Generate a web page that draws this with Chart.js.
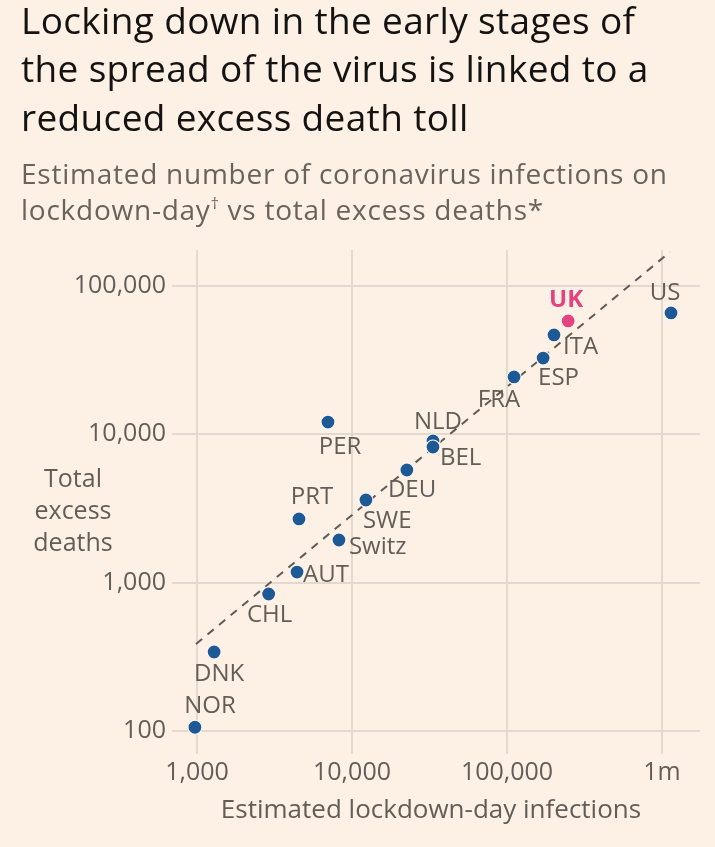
<!DOCTYPE html>
<html>
<head>
<meta charset="utf-8">
<script src="https://cdn.jsdelivr.net/npm/chart.js@4"></script>
<style>
  html, body { margin: 0; padding: 0; background: #fdf1e6; }
  #wrap { position: relative; width: 715px; height: 847px; overflow: hidden; }
  #chart { position: absolute; left: 0; top: 0; }
  .line { position: absolute; left: 21px; white-space: nowrap; font-family: "Open Sans", sans-serif; line-height: normal; }
  .t { font-size: 37px; color: #151312; }
  .s { font-size: 28px; color: #69635e; }
</style>
</head>
<body>
<div id="wrap">
  <canvas id="chart" width="715" height="847"></canvas>
  <div class="line t" id="t1" style="top:-6px">Locking down in the early stages of</div>
  <div class="line t" id="t2" style="top:42px">the spread of the virus is linked to a</div>
  <div class="line t" id="t3" style="top:91px">reduced excess death toll</div>
  <div class="line s" id="s1" style="top:154px">Estimated number of coronavirus infections on</div>
  <div class="line s" id="s2" style="top:190px">lockdown-day<sup style="font-size:16px;vertical-align:11px;line-height:0">†</sup> vs total excess deaths*</div>
</div>
<script>
// ---- data ----
const countries = ['NOR','DNK','CHL','AUT','PRT','Switz','SWE','PER','DEU','NLD','BEL','FRA','ESP','ITA','UK','US'];
const infections = [970, 1290, 2900, 4420, 4550, 8240, 12300, 7000, 22600, 33300, 33300, 111000, 171000, 201000, 248000, 1143000];
const excessDeaths = [106, 341, 839, 1180, 2690, 1940, 3610, 12100, 5750, 9020, 8220, 24400, 32700, 46800, 58200, 65900];
const highlighted = ['UK'];
const trendX = [985, 1127000];
const trendY = [386, 169800];
const xTickValues = [1000, 10000, 100000, 1000000];
const xTickLabels = ['1,000', '10,000', '100,000', '1m'];
const yTickValues = [100, 1000, 10000, 100000];
const yTickLabels = ['100', '1,000', '10,000', '100,000'];
const xTitle = 'Estimated lockdown-day infections';
const yTitle = ['Total', 'excess', 'deaths'];

// ---- text fitting (style only): adjust headline letter spacing to the reference line widths ----
function fit(id, target) {
  const el = document.getElementById(id);
  const w = el.getBoundingClientRect().width;
  const n = el.textContent.length - 1;
  return (target - w) / n;
}
const lsT = fit('t1', 614);
['t1','t2','t3'].forEach(id => document.getElementById(id).style.letterSpacing = lsT + 'px');
const lsS = fit('s1', 646);
['s1','s2'].forEach(id => document.getElementById(id).style.letterSpacing = lsS + 'px');

// ---- styles (label placement relative to point, px) ----
const labelStyle = {
  NOR:   { dx: 15,  dy: -21, align: 'center' },
  DNK:   { dx: 5,   dy: 22,  align: 'center' },
  CHL:   { dx: 1,   dy: 21,  align: 'center' },
  AUT:   { dx: 6,   dy: 3,   align: 'left' },
  PRT:   { dx: 13,  dy: -22, align: 'center' },
  Switz: { dx: 10,  dy: 7,   align: 'left' },
  SWE:   { dx: -3,  dy: 21,  align: 'left' },
  PER:   { dx: 12,  dy: 25,  align: 'center' },
  DEU:   { dx: -19, dy: 20,  align: 'left' },
  NLD:   { dx: 5,   dy: -19, align: 'center' },
  BEL:   { dx: 7,   dy: 11,  align: 'left' },
  FRA:   { dx: -15, dy: 23,  align: 'center' },
  ESP:   { dx: -5,  dy: 20,  align: 'left' },
  ITA:   { dx: 9,   dy: 12,  align: 'left' },
  UK:    { dx: -2,  dy: -21, align: 'center' },
  US:    { dx: -6,  dy: -20, align: 'center' }
};
const BLUE = '#1d5a95', PINK = '#e4437f', TEXT = '#635d58', GRID = '#e4d9cf';
const FONT = '"Open Sans", sans-serif';

const points = countries.map((c, i) => ({ x: infections[i], y: excessDeaths[i], c }));

const labelPlugin = {
  id: 'labels',
  afterDatasetsDraw(chart) {
    const ctx = chart.ctx, xs = chart.scales.x, ys = chart.scales.y;
    ctx.save();
    ctx.textBaseline = 'middle';
    countries.forEach((c, i) => {
      const st = labelStyle[c];
      const px = xs.getPixelForValue(infections[i]) + st.dx;
      const py = ys.getPixelForValue(excessDeaths[i]) + st.dy;
      const hi = highlighted.includes(c);
      ctx.font = (hi ? '700 ' : '400 ') + '24px ' + FONT;
      ctx.fillStyle = hi ? PINK : TEXT;
      ctx.textAlign = st.align;
      ctx.fillText(c, px, py);
    });
    // axis titles
    ctx.font = '400 26px ' + FONT;
    ctx.fillStyle = TEXT;
    ctx.textAlign = 'center';
    ctx.fillText(xTitle, 431, 811);
    ctx.font = '400 25px ' + FONT;
    yTitle.forEach((t, k) => ctx.fillText(t, 73, 480 + k * 32));
    ctx.restore();
  }
};

new Chart(document.getElementById('chart'), {
  data: {
    datasets: [
      {
        type: 'line',
        data: trendX.map((x, i) => ({ x, y: trendY[i] })),
        borderColor: '#5f5a55',
        borderWidth: 2,
        borderDash: [8, 7],
        pointRadius: 0,
        fill: false,
        order: 2
      },
      {
        type: 'scatter',
        data: points,
        pointRadius: 7,
        pointBorderWidth: 1.2,
        pointBorderColor: '#fdf6ef',
        pointBackgroundColor: points.map(p => highlighted.includes(p.c) ? PINK : BLUE),
        order: 1
      }
    ]
  },
  options: {
    responsive: false,
    animation: false,
    devicePixelRatio: 1,
    layout: { padding: { top: 250, right: 15, bottom: 0, left: 0 } },
    plugins: { legend: { display: false }, tooltip: { enabled: false } },
    scales: {
      x: {
        type: 'logarithmic',
        min: 690, max: 1758000,
        border: { display: false },
        grid: { color: GRID, lineWidth: 2, drawTicks: false },
        afterBuildTicks: s => { s.ticks = xTickValues.map(v => ({ value: v })); },
        afterFit: s => { s.height = 93; },
        ticks: {
          autoSkip: false, maxRotation: 0, padding: 4,
          color: TEXT, font: { family: FONT, size: 25 },
          callback: v => xTickLabels[xTickValues.indexOf(v)]
        }
      },
      y: {
        type: 'logarithmic',
        min: 70, max: 175000,
        border: { display: false },
        grid: { color: GRID, lineWidth: 2, drawTicks: false },
        afterBuildTicks: s => { s.ticks = yTickValues.map(v => ({ value: v })); },
        afterFit: s => { s.width = 172; },
        ticks: {
          autoSkip: false, padding: 6,
          color: TEXT, font: { family: FONT, size: 25 },
          callback: v => yTickLabels[yTickValues.indexOf(v)]
        }
      }
    }
  },
  plugins: [labelPlugin]
});
</script>
</body>
</html>
